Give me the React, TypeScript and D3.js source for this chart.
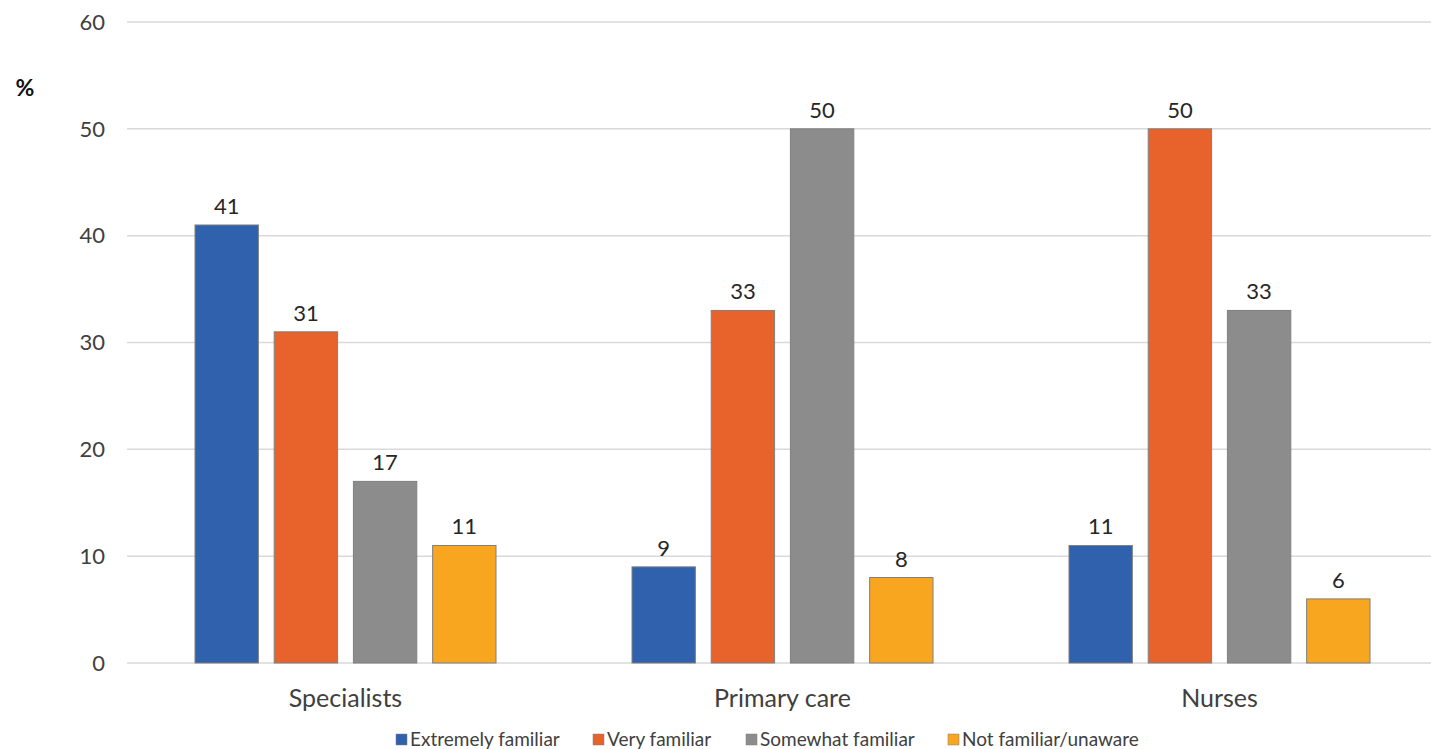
import React from "react";
import * as d3 from "d3";

const categories = ["Specialists", "Primary care", "Nurses"];
const seriesNames = ["Extremely familiar", "Very familiar", "Somewhat familiar", "Not familiar/unaware"];
const extremely = [41, 9, 11];
const very = [31, 33, 50];
const somewhat = [17, 50, 33];
const notFamiliar = [11, 8, 6];
const yTicks = [0, 10, 20, 30, 40, 50, 60];
const colors = ["#3061AC", "#E8622C", "#8C8C8C", "#F8A51F"];

const W = 1431;
const H = 749;
const FONT = "Lato, 'Open Sans', sans-serif";

export default function App() {
  const values = [extremely, very, somewhat, notFamiliar];
  const x0 = d3.scaleBand<string>().domain(categories).range([127, 1438]).paddingInner(0).paddingOuter(0);
  const bw = x0.bandwidth();
  const groupW = 301;
  const x1 = d3
    .scaleBand<string>()
    .domain(seriesNames)
    .range([(bw - groupW) / 2, (bw + groupW) / 2])
    .paddingInner(0.2);
  const y = d3.scaleLinear().domain([0, 60]).range([663, 22]);

  const legendX = [396, 593, 746, 948];

  return (
    <svg width={W} height={H} style={{ position: "absolute", left: 0, top: 0, background: "#fff" }}>
      <rect width={W} height={H} fill="#fff" />
      {yTicks.map((t) => (
        <g key={t}>
          <line x1={127} x2={W} y1={y(t)} y2={y(t)} stroke="#D9D9D9" strokeWidth={1.5} />
          <text x={105} y={y(t)} dy="0.35em" textAnchor="end" fontFamily={FONT} fontSize={22} fill="#404040">
            {t}
          </text>
        </g>
      ))}
      <text x={25} y={88} dy="0.35em" textAnchor="middle" fontFamily={FONT} fontSize={23} fontWeight="bold" fill="#111">
        %
      </text>
      {categories.map((c, ci) => (
        <g key={c} transform={`translate(${x0(c)},0)`}>
          {seriesNames.map((s, si) => {
            const v = values[si][ci];
            const bx = x1(s)!;
            return (
              <g key={s}>
                <rect
                  x={bx}
                  y={y(v)}
                  width={x1.bandwidth()}
                  height={y(0) - y(v)}
                  fill={colors[si]}
                  stroke="#7F7F7F"
                  strokeWidth={1}
                />
                <text
                  x={bx + x1.bandwidth() / 2}
                  y={y(v) - 11}
                  textAnchor="middle"
                  fontFamily={FONT}
                  fontSize={22}
                  fill="#262626"
                >
                  {v}
                </text>
              </g>
            );
          })}
          <text x={bw / 2} y={698} dy="0.35em" textAnchor="middle" fontFamily={FONT} fontSize={25} fill="#404040">
            {c}
          </text>
        </g>
      ))}
      {seriesNames.map((s, si) => (
        <g key={s}>
          <rect x={legendX[si]} y={734} width={11} height={11} fill={colors[si]} stroke="#7F7F7F" strokeWidth={0.5} />
          <text x={legendX[si] + 14} y={739} dy="0.35em" fontFamily={FONT} fontSize={19} fill="#404040">
            {s}
          </text>
        </g>
      ))}
    </svg>
  );
}
